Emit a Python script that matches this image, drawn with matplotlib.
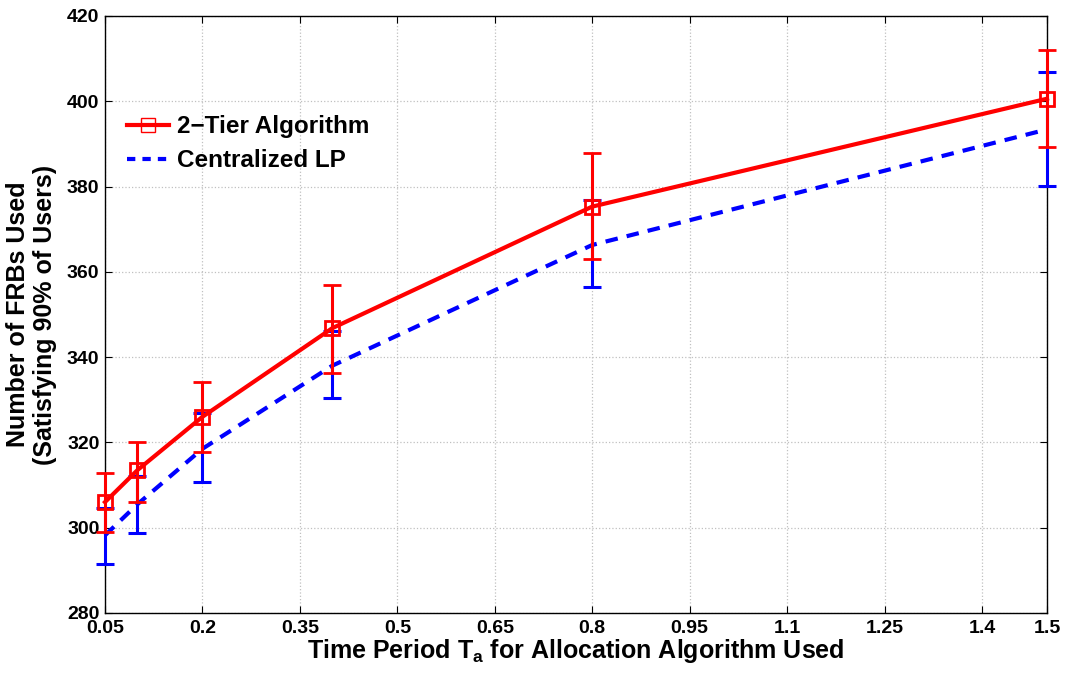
import numpy as np
import matplotlib
matplotlib.use("Agg")
import matplotlib.pyplot as plt
from matplotlib.lines import Line2D

plt.rcParams['font.family'] = ['Liberation Sans', 'DejaVu Sans']
plt.rcParams['font.weight'] = 'bold'
plt.rcParams['mathtext.fontset'] = 'custom'
plt.rcParams['mathtext.rm'] = 'Liberation Sans:bold'
plt.rcParams['mathtext.bf'] = 'Liberation Sans:bold'
plt.rcParams['mathtext.it'] = 'Liberation Sans:bold'

# time period Ta
x = [0.05, 0.1, 0.2, 0.4, 0.8, 1.5]

# 2-Tier Algorithm: mean, lower, upper
tier_mean = [306, 313.5, 326, 346.8, 375.3, 400.6]
tier_low = [299.1, 306.1, 317.8, 336.3, 363, 389.3]
tier_high = [312.9, 320.2, 334.2, 356.9, 387.8, 412]

# Centralized LP: mean, lower, upper
lp_mean = [298.2, 305.5, 318.5, 338, 366.3, 393.4]
lp_low = [291.6, 298.8, 310.6, 330.5, 356.4, 380.2]
lp_high = [304.6, 312.1, 326.8, 346.1, 376.8, 406.9]

xticks = [0.05, 0.2, 0.35, 0.5, 0.65, 0.8, 0.95, 1.1, 1.25, 1.4, 1.5]
xticklabels = ['0.05', '0.2', '0.35', '0.5', '0.65', '0.8', '0.95', '1.1', '1.25', '1.4', '1.5']
yticks = [280, 300, 320, 340, 360, 380, 400, 420]

tier_mean = np.array(tier_mean)
lp_mean = np.array(lp_mean)
tier_err = [tier_mean - np.array(tier_low), np.array(tier_high) - tier_mean]
lp_err = [lp_mean - np.array(lp_low), np.array(lp_high) - lp_mean]

fig = plt.figure(figsize=(10.7, 6.75), dpi=100)
ax = fig.add_axes([0.0981, 0.0919, 0.8804, 0.8844])

ax.errorbar(x, lp_mean, yerr=lp_err, color='#0000ff', ecolor='#0000ff',
            linestyle='--', linewidth=3, elinewidth=2.2, capsize=6.5,
            capthick=2.2, dashes=(3, 2.2), zorder=3, clip_on=False)
ax.errorbar(x, tier_mean, yerr=tier_err, color='#ff0000', ecolor='#ff0000',
            linestyle='-', linewidth=3, elinewidth=2.2, capsize=6.5,
            capthick=2.2, marker='s', markersize=10, markerfacecolor='none',
            markeredgewidth=2, zorder=4, clip_on=False)

ax.set_xlim(0.05, 1.5)
ax.set_ylim(280, 420)
ax.set_xticks(xticks)
ax.set_xticklabels(xticklabels)
ax.set_yticks(yticks)
ax.tick_params(direction='in', top=True, right=True, labelsize=14, length=5,
               width=0.8)
ax.tick_params(axis='x', pad=5)
ax.tick_params(axis='y', pad=4)
for lab in ax.get_xticklabels() + ax.get_yticklabels():
    lab.set_fontweight('bold')
ax.grid(True, linestyle=':', color='#c0c0c0', linewidth=0.9)
for s in ax.spines.values():
    s.set_linewidth(1)

ax.set_xlabel(r'Time Period $\mathbf{T_a}$ for Allocation Algorithm Used',
              fontsize=18, fontweight='bold', labelpad=0)
ax.set_ylabel('Number of FRBs Used\n(Satisfying 90% of Users)',
              fontsize=18, fontweight='bold', labelpad=7, linespacing=1.15)

handles = [
    Line2D([], [], color='#ff0000', linewidth=3, marker='s', markersize=10,
           markerfacecolor='none', markeredgewidth=1),
    Line2D([], [], color='#0000ff', linewidth=3, linestyle='--', dashes=(2, 1.7)),
]
labels = ['2\u2212Tier Algorithm', 'Centralized LP']
leg = ax.legend(handles, labels, loc='upper left',
                bbox_to_anchor=(0.0, 0.87), frameon=False, fontsize=17.5,
                handlelength=1.75, handletextpad=0.3, labelspacing=0.45,
                borderaxespad=0.5)
for t in leg.get_texts():
    t.set_fontweight('bold')

fig.savefig('out.png', dpi=100)
